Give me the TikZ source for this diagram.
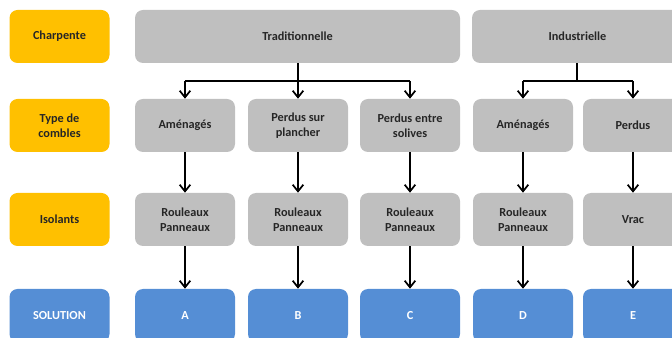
\documentclass[tikz,border=0pt]{standalone}
\usepackage{fontspec}
\setmainfont{Carlito}
\usepackage{tikz}
\usetikzlibrary{arrows.meta,calc,positioning}
\definecolor{jaune}{HTML}{FFC000}
\definecolor{gris}{HTML}{BFBFBF}
\definecolor{bleu}{HTML}{558ED5}
\tikzstyle{base}=[
  rounded corners=6pt,
  minimum width=75pt,
  minimum height=39.75pt,
  align=center,
  inner sep=1pt,
  font={\fontsize{9.2pt}{11pt}\selectfont\bfseries},
]
\tikzstyle{etiquette}=[base, fill=jaune, text=black!85]
\tikzstyle{choix}=[base, fill=gris, text=black!85]
\tikzstyle{solution}=[base, fill=bleu, text=white]
\tikzstyle{arrow}=[
  draw=black,
  line width=1.5pt,
]
\tikzset{
  x=0.75pt, y=-0.75pt,
  >={Straight Barb[length=5pt,width=8pt,line width=1.3pt]},
}
\begin{document}
\begin{tikzpicture}
  \useasboundingbox (0,0) rectangle (672,338);
  \clip (0,0) rectangle (672,338);
  % colonne des etiquettes
  \node [etiquette] (lcharp) at (59.5,36.5) {Charpente};
  \node [etiquette] (ltype) at (59.5,125.5) {Type de\\combles};
  \node [etiquette] (liso) at (59.5,219.5) {Isolants};
  \node [solution] (lsol) at (59.5,315.5) {SOLUTION};
  % charpentes
  \node [choix, minimum width=243.75pt] (trad) at (297.5,36.5) {Traditionnelle};
  \node [choix, minimum width=158.25pt] (indus) at (577.5,36.5) {Industrielle};
  % types de combles
  \node [choix] (t1) at (185,125.5) {Aménagés};
  \node [choix] (t2) at (298,125.5) {Perdus sur\\plancher};
  \node [choix] (t3) at (410,125.5) {Perdus entre\\solives};
  \node [choix] (t4) at (523,125.5) {Aménagés};
  \node [choix] (t5) at (633,125.5) {Perdus};
  % isolants
  \node [choix] (i1) at (185,219.5) {Rouleaux\\Panneaux};
  \node [choix] (i2) at (298,219.5) {Rouleaux\\Panneaux};
  \node [choix] (i3) at (410,219.5) {Rouleaux\\Panneaux};
  \node [choix] (i4) at (523,219.5) {Rouleaux\\Panneaux};
  \node [choix] (i5) at (633,219.5) {Vrac};
  % solutions
  \node [solution] (s1) at (185,315.5) {A};
  \node [solution] (s2) at (298,315.5) {B};
  \node [solution] (s3) at (410,315.5) {C};
  \node [solution] (s4) at (523,315.5) {D};
  \node [solution] (s5) at (633,315.5) {E};
  % fourches
  \coordinate (ftrad) at (298,81);
  \coordinate (findus) at (577,81);
  \draw [arrow] (trad.south-|ftrad) -- (ftrad);
  \draw [arrow] (indus.south-|findus) -- (findus);
  \foreach \t in {t1,t2,t3}
    \draw [->,arrow] (ftrad-|\t.north) -- (\t.north);
  \draw [arrow] (ftrad-|t1.north) -- (ftrad-|t3.north);
  \foreach \t in {t4,t5}
    \draw [->,arrow] (findus-|\t.north) -- (\t.north);
  \draw [arrow] (findus-|t4.north) -- (findus-|t5.north);
  % fleches verticales
  \foreach \n in {1,...,5} {
    \draw [->,arrow] (t\n) -- (i\n);
    \draw [->,arrow] (i\n) -- (s\n);
  }
\end{tikzpicture}
\end{document}
